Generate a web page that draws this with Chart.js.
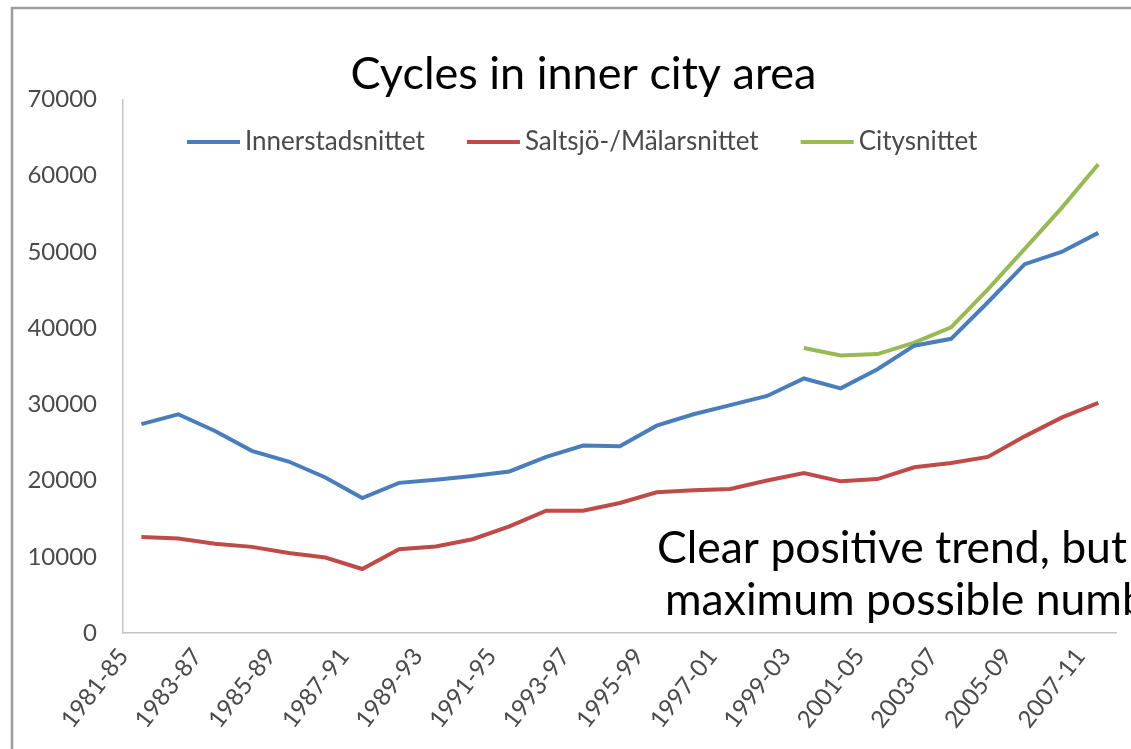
<!DOCTYPE html>
<html>
<head>
<meta charset="utf-8">
<title>Cycles in inner city area</title>
<script src="https://cdn.jsdelivr.net/npm/chart.js@4.4.1/dist/chart.umd.min.js"></script>
<style>
	html, body { margin: 0; padding: 0; background: #ffffff; }
	#wrap { position: relative; width: 1131px; height: 749px; }
</style>
</head>
<body>
<div id="wrap"><canvas id="performance" width="1131" height="749"></canvas></div>
<script>
var periods = ['1981-85', '1982-86', '1983-87', '1984-88', '1985-89', '1986-90', '1987-91', '1988-92', '1989-93',
	'1990-94', '1991-95', '1992-96', '1993-97', '1994-98', '1995-99', '1996-00', '1997-01', '1998-02',
	'1999-03', '2000-04', '2001-05', '2002-06', '2003-07', '2004-08', '2005-09', '2006-10', '2007-11'];

var innerstad = [27400, 28700, 26500, 23900, 22500, 20400, 17700, 19700, 20100,
	20600, 21200, 23100, 24600, 24500, 27200, 28700, 29900, 31100,
	33400, 32100, 34600, 37700, 38600, 43400, 48400, 50000, 52500];

var saltsjo = [12600, 12400, 11700, 11300, 10500, 9900, 8400, 11000, 11350,
	12300, 14000, 16050, 16050, 17060, 18460, 18730, 18900, 20000,
	21000, 19900, 20200, 21750, 22300, 23100, 25800, 28250, 30200];

var city = [null, null, null, null, null, null, null, null, null,
	null, null, null, null, null, null, null, null, null,
	37400, 36400, 36600, 38100, 40100, 45100, 50400, 55750, 61500];

var y_ticks = [0, 10000, 20000, 30000, 40000, 50000, 60000, 70000];

var note_lines = ['Clear positive trend, but', 'maximum possible number'];

// slide frame, legend inside the plot (like excel) and the text box lower right
var extras = {
	id: 'extras',
	afterLayout: function (chart) {
		// title sits a bit right of the canvas centre
		chart.titleBlock.left += 36;
	},
	beforeDraw: function (chart) {
		var ctx = chart.ctx;
		ctx.save();
		ctx.strokeStyle = '#9c9c9c';
		ctx.lineWidth = 2.5;
		ctx.beginPath();
		ctx.moveTo(12, 749);
		ctx.lineTo(12, 8);
		ctx.lineTo(1131, 8);
		ctx.stroke();
		ctx.restore();
	},
	afterDraw: function (chart) {
		var ctx = chart.ctx;
		ctx.save();

		// legend
		var x = 187;
		var y = 142;
		ctx.font = '26px Lato';
		ctx.textBaseline = 'middle';
		for (let ds of chart.data.datasets) {
			ctx.fillStyle = ds.borderColor;
			ctx.fillRect(x, y - 2, 53, 4);
			x += 58;
			ctx.fillStyle = '#4a4a4a';
			ctx.fillText(ds.label, x, y);
			x += ctx.measureText(ds.label).width + 42;
		}

		ctx.font = '44.5px Lato';
		ctx.fillStyle = '#000000';
		ctx.fillText(note_lines[0], 657, 549);
		ctx.fillText(note_lines[1], 665, 601);
		ctx.restore();
	}
};

function draw() {
	var ctx = document.getElementById('performance').getContext('2d');

	var chart = new Chart(ctx, {
		type: 'line',
		data: {
			labels: periods,
			datasets: [{
				label: 'Innerstadsnittet',
				data: innerstad,
				borderColor: '#4a7ebb',
				borderWidth: 4,
				pointRadius: 0,
				tension: 0
			}, {
				label: 'Saltsjö-/Mälarsnittet',
				data: saltsjo,
				borderColor: '#be4b48',
				borderWidth: 4,
				pointRadius: 0,
				tension: 0
			}, {
				label: 'Citysnittet',
				data: city,
				borderColor: '#98b954',
				borderWidth: 4,
				pointRadius: 0,
				tension: 0
			}]
		},
		options: {
			responsive: false,
			animation: false,
			layout: {
				padding: 0
			},
			plugins: {
				title: {
					display: true,
					text: 'Cycles in inner city area',
					color: '#000000',
					font: { family: 'Lato', size: 45, weight: 'normal', lineHeight: 1.1 },
					padding: { top: 50, bottom: 0 }
				},
				legend: { display: false },
				tooltip: { enabled: false }
			},
			scales: {
				x: {
					offset: true,
					grid: { display: false, drawTicks: false },
					border: { display: true, color: '#c4c4c4', width: 1.5 },
					afterFit: function (axis) { axis.height = 116; },
					ticks: {
						autoSkip: false,
						minRotation: 52,
						maxRotation: 52,
						padding: 10,
						labelOffset: -18,
						color: '#4a4a4a',
						font: { family: 'Lato', size: 24 },
						callback: function (value, index) {
							return index % 2 === 0 ? this.getLabelForValue(value) : '';
						}
					}
				},
				y: {
					min: 0,
					max: 70000,
					grid: { display: false, drawTicks: false },
					border: { display: true, color: '#c4c4c4', width: 1.5 },
					afterFit: function (axis) { axis.width = 123; },
					afterBuildTicks: function (axis) {
						axis.ticks = y_ticks.map(function (v) { return { value: v }; });
					},
					ticks: {
						padding: 26,
						color: '#4a4a4a',
						font: { family: 'Lato', size: 24 },
						callback: function (value) { return String(value); }
					}
				}
			}
		},
		plugins: [extras]
	});
	return chart;
}

window.onload = function () {
	draw();
};
</script>
</body>
</html>
